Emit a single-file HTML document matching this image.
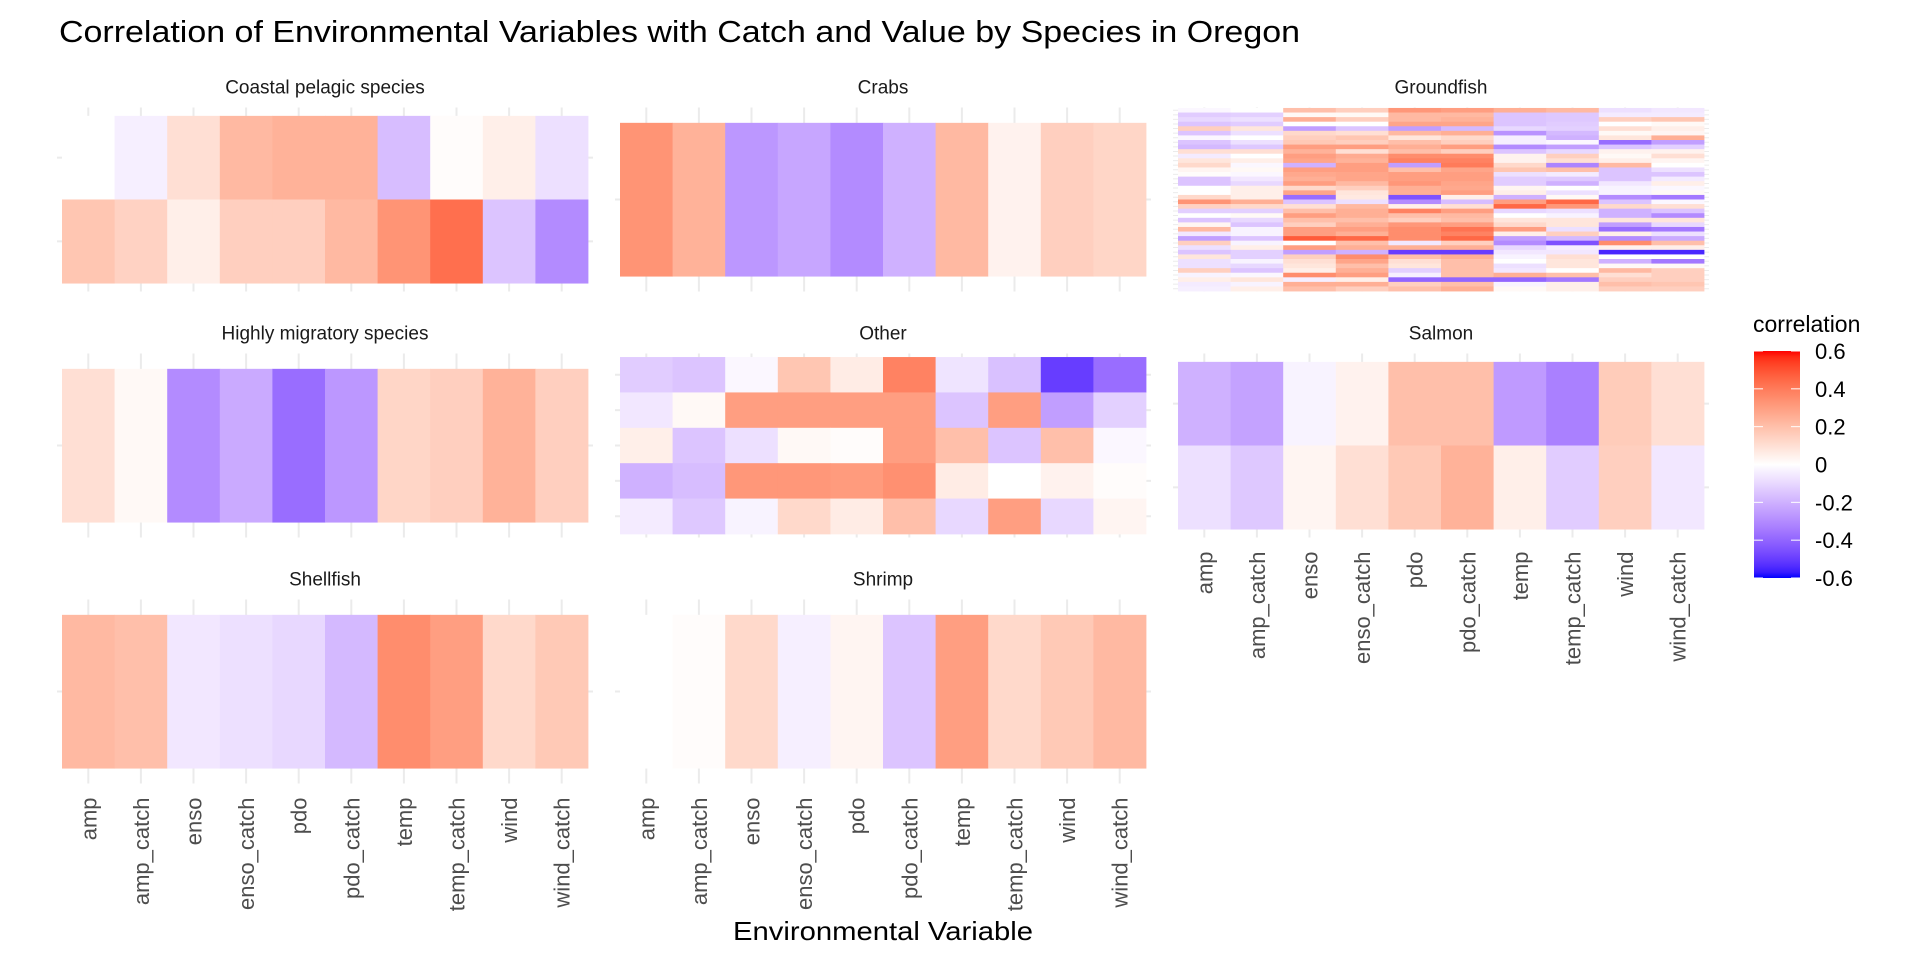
<!DOCTYPE html>
<html>
<head>
<meta charset="utf-8">
<style>
html,body{margin:0;padding:0;background:#fff;}
svg{display:block;font-family:"Liberation Sans",Arial,sans-serif;}
</style>
</head>
<body>
<svg id="chart" width="1920" height="960" viewBox="0 0 1920 960" xmlns="http://www.w3.org/2000/svg">
  <text x="59" y="42" font-size="31" fill="#000" textLength="1241" lengthAdjust="spacingAndGlyphs">Correlation of Environmental Variables with Catch and Value by Species in Oregon</text>
  <g id="panels"></g>
  <text x="883" y="940" font-size="26" text-anchor="middle" fill="#000" textLength="300" lengthAdjust="spacingAndGlyphs">Environmental Variable</text>
  <g id="legend"></g>
</svg>
<script>
const variables = ["amp","amp_catch","enso","enso_catch","pdo","pdo_catch","temp","temp_catch","wind","wind_catch"];
const species = ["Coastal pelagic species","Crabs","Groundfish","Highly migratory species","Other","Salmon","Shellfish","Shrimp"];
const coastalValues = [
  [0.0,-0.04,0.1,0.22,0.24,0.24,-0.17,0.01,0.05,-0.08],
  [0.18,0.14,0.05,0.15,0.15,0.22,0.33,0.43,-0.15,-0.3]
];
const crabsValues = [
  [0.33,0.24,-0.27,-0.23,-0.3,-0.2,0.22,0.04,0.15,0.13]
];
const groundfishValues = [
  [-0.02,0.0,0.2,0.15,0.32,0.3,0.25,0.22,-0.08,-0.06],
  [-0.13,-0.12,0.02,0.02,0.22,0.22,-0.15,-0.14,-0.05,-0.05],
  [-0.1,-0.08,0.25,0.15,0.22,0.24,-0.15,-0.14,0.15,0.18],
  [-0.15,-0.13,0.0,0.0,0.28,0.28,-0.15,-0.13,0.0,0.02],
  [0.15,0.08,-0.25,-0.15,-0.25,-0.18,-0.1,-0.12,0.1,0.05],
  [-0.15,-0.08,0.12,0.1,0.22,0.25,-0.28,-0.18,0.02,0.03],
  [-0.02,0.0,0.15,0.18,0.08,0.12,-0.04,-0.2,0.08,0.25],
  [-0.15,-0.08,0.17,0.15,0.2,0.15,-0.04,-0.02,-0.38,-0.25],
  [-0.18,-0.14,0.3,0.3,0.25,0.3,-0.3,-0.25,-0.15,-0.12],
  [0.1,0.1,0.24,0.1,0.2,0.15,-0.15,-0.1,0.04,0.04],
  [-0.05,0.0,0.3,0.26,0.35,0.35,0.04,0.15,0.02,0.1],
  [0.08,0.05,0.28,0.24,0.38,0.38,0.04,0.1,0.05,0.03],
  [0.12,-0.02,-0.2,0.3,-0.25,0.4,0.12,-0.32,0.22,0.0],
  [0.03,0.02,0.3,0.3,0.2,0.28,0.18,0.2,-0.15,-0.08],
  [0.01,-0.02,0.27,0.28,0.3,0.3,-0.08,-0.05,-0.15,-0.15],
  [-0.15,-0.06,0.25,0.28,0.3,0.3,-0.13,-0.14,-0.15,-0.05],
  [-0.15,-0.1,0.3,0.22,0.32,0.28,-0.13,-0.2,-0.06,0.05],
  [0.0,0.05,0.12,0.15,0.25,0.27,0.03,0.0,-0.03,-0.02],
  [0.0,0.05,0.28,0.08,0.25,0.3,0.05,-0.08,-0.03,0.02],
  [0.12,0.05,-0.38,0.07,-0.45,0.05,-0.2,0.02,-0.3,-0.35],
  [0.33,0.25,-0.15,-0.08,-0.3,-0.17,0.3,0.45,-0.15,-0.02],
  [0.14,0.12,0.1,0.22,0.05,0.1,0.45,0.32,0.12,0.1],
  [-0.12,-0.12,0.2,0.25,0.38,0.3,-0.1,-0.08,-0.2,-0.15],
  [0.0,0.02,0.3,0.25,0.2,0.22,0.0,-0.03,-0.2,-0.3],
  [-0.15,-0.1,0.2,0.2,0.15,0.2,0.08,0.08,0.08,0.08],
  [0.03,-0.15,0.15,0.25,0.32,0.3,0.12,0.08,-0.25,-0.1],
  [0.22,-0.03,0.3,0.3,0.35,0.42,0.3,-0.08,-0.38,-0.35],
  [-0.06,-0.03,0.3,0.25,0.35,0.38,0.05,0.15,0.05,-0.08],
  [-0.25,-0.15,0.48,0.45,0.35,0.45,-0.25,-0.18,-0.3,-0.22],
  [0.15,-0.03,0.0,0.2,-0.06,0.15,-0.3,-0.45,0.35,0.2],
  [-0.08,0.05,0.3,0.25,0.25,0.25,-0.1,-0.04,0.04,0.05],
  [-0.15,-0.12,-0.25,-0.2,-0.5,-0.5,-0.06,-0.06,-0.55,-0.55],
  [0.08,-0.12,0.15,0.35,0.2,0.25,-0.03,0.1,0.0,0.0],
  [-0.08,-0.03,0.1,0.28,0.1,0.2,0.0,0.08,-0.2,-0.35],
  [-0.08,-0.1,0.08,0.2,0.08,0.2,-0.08,0.08,0.02,0.02],
  [0.15,-0.15,0.05,0.25,-0.12,0.2,-0.06,0.0,0.22,0.15],
  [-0.03,-0.02,0.35,0.3,-0.04,0.2,0.25,0.2,0.1,0.15],
  [0.05,0.08,-0.04,0.05,-0.4,-0.4,-0.4,-0.35,0.15,0.15],
  [-0.05,-0.03,0.25,0.25,0.15,0.2,-0.03,0.05,0.2,0.18],
  [-0.04,0.05,0.2,0.15,0.2,0.25,0.02,0.05,0.15,0.15]
];
const hmsValues = [
  [0.1,0.02,-0.3,-0.22,-0.38,-0.27,0.13,0.15,0.24,0.15]
];
const otherValues = [
  [-0.13,-0.15,-0.02,0.18,0.06,0.38,-0.07,-0.16,-0.5,-0.38],
  [-0.06,0.02,0.3,0.3,0.3,0.3,-0.15,0.3,-0.25,-0.12],
  [0.05,-0.15,-0.08,0.02,0.01,0.3,0.2,-0.15,0.2,-0.02],
  [-0.2,-0.17,0.32,0.32,0.31,0.34,0.06,0.0,0.04,0.01],
  [-0.05,-0.14,-0.03,0.12,0.06,0.2,-0.1,0.3,-0.1,0.03]
];
const salmonValues = [
  [-0.2,-0.24,-0.03,0.04,0.2,0.2,-0.26,-0.33,0.16,0.1],
  [-0.08,-0.14,0.03,0.1,0.17,0.24,0.05,-0.13,0.15,-0.06]
];
const shellfishValues = [
  [0.22,0.2,-0.06,-0.08,-0.1,-0.18,0.35,0.3,0.12,0.17]
];
const shrimpValues = [
  [0.0,0.01,0.12,-0.04,0.03,-0.15,0.3,0.12,0.17,0.22]
];
const legendTicks = [0.6,0.4,0.2,0,-0.2,-0.4,-0.6];
const legendLabels = ["0.6","0.4","0.2","0","-0.2","-0.4","-0.6"];

const NS = "http://www.w3.org/2000/svg";
const LIM = 0.6;
function s2l(c){c/=255;return c<=0.04045?c/12.92:Math.pow((c+0.055)/1.055,2.4);}
function l2s(c){c=c<=0.0031308?12.92*c:1.055*Math.pow(c,1/2.4)-0.055;return Math.max(0,Math.min(255,Math.round(c*255)));}
function toLab(rgb){
  const r=s2l(rgb[0]),g=s2l(rgb[1]),b=s2l(rgb[2]);
  let X=(0.4124*r+0.3576*g+0.1805*b)/0.95047,Y=(0.2126*r+0.7152*g+0.0722*b),Z=(0.0193*r+0.1192*g+0.9505*b)/1.08883;
  const f=t=>t>0.008856?Math.cbrt(t):7.787*t+16/116;
  const fx=f(X),fy=f(Y),fz=f(Z);
  return [116*fy-16,500*(fx-fy),200*(fy-fz)];
}
function fromLab(lab){
  const fy=(lab[0]+16)/116,fx=fy+lab[1]/500,fz=fy-lab[2]/200;
  const fi=t=>t*t*t>0.008856?t*t*t:(t-16/116)/7.787;
  const X=fi(fx)*0.95047,Y=fi(fy),Z=fi(fz)*1.08883;
  const r=3.2406*X-1.5372*Y-0.4986*Z,g=-0.9689*X+1.8758*Y+0.0415*Z,b=0.0557*X-0.2040*Y+1.0570*Z;
  return "rgb("+l2s(r)+","+l2s(g)+","+l2s(b)+")";
}
const LAB_LOW=toLab([0,0,255]),LAB_MID=toLab([255,255,255]),LAB_HIGH=toLab([255,0,0]);
function colorScale(v){
  let t=Math.max(-1,Math.min(1,v/LIM));
  const end=t<0?LAB_LOW:LAB_HIGH;const a=Math.abs(t);
  return fromLab([0,1,2].map(i=>LAB_MID[i]+(end[i]-LAB_MID[i])*a));
}

const colTileX=[62,620,1178];
const tileAreaW=526;
const rowPanelY=[107.5,353.5,599.5];
const panelH=184;
const panels=[
  {name:species[0],data:coastalValues,r:0,c:0,labels:false},
  {name:species[1],data:crabsValues,r:0,c:1,labels:false},
  {name:species[2],data:groundfishValues,r:0,c:2,labels:false},
  {name:species[3],data:hmsValues,r:1,c:0,labels:false},
  {name:species[4],data:otherValues,r:1,c:1,labels:false},
  {name:species[5],data:salmonValues,r:1,c:2,labels:true},
  {name:species[6],data:shellfishValues,r:2,c:0,labels:true},
  {name:species[7],data:shrimpValues,r:2,c:1,labels:true}
];
const root=document.getElementById("panels");
function mk(tag,attrs,parent){const e=document.createElementNS(NS,tag);for(const k in attrs)e.setAttribute(k,attrs[k]);parent.appendChild(e);return e;}
function slug(s){return s.toLowerCase().replace(/[^a-z]+/g,"-").replace(/-$/,"");}

panels.forEach(p=>{
  const g=mk("g",{},root);
  
  
  const nx=variables.length;
  const xu=tileAreaW/nx;
  const x0=colTileX[p.c];
  const xScale=i=>x0+i*xu;
  const top=rowPanelY[p.r];
  const ny=p.data.length;
  const yu=panelH/(ny+0.2);
  const yScale=j=>top+0.1*yu+j*yu;
  const st=mk("text",{x:x0+tileAreaW/2,y:top-14,"font-size":19,"text-anchor":"middle",fill:"#1a1a1a"},g);
  st.textContent=p.name;
  
  
  for(let i=0;i<nx;i++){
    const l=mk("line",{x1:xScale(i)+xu/2,x2:xScale(i)+xu/2,y1:top,y2:top+panelH,stroke:"#ebebeb","stroke-width":2},g);
    
    
  }
  for(let j=0;j<ny;j++){
    const l=mk("line",{x1:x0-5,x2:x0+tileAreaW+5,y1:yScale(j)+yu/2,y2:yScale(j)+yu/2,stroke:"#ebebeb","stroke-width":ny>10?1:2},g);
    
    
  }
  p.data.forEach((row,j)=>{
    row.forEach((v,i)=>{
      const r=mk("rect",{x:xScale(i),y:yScale(j),width:xu+0.4,height:yu+0.4,fill:colorScale(v)},g);
      
      
    });
  });
  if(p.labels){
    variables.forEach((lab,i)=>{
      const cx=xScale(i)+xu/2, ty=top+panelH+14;
      const t=mk("text",{x:0,y:0,"font-size":22,"text-anchor":"end",fill:"#4d4d4d",transform:"translate("+(cx+8)+","+ty+") rotate(-90)"},g);
      t.textContent=lab;
      
      
    });
  }
});

const lg=document.getElementById("legend");
const defs=mk("defs",{},lg);
const grad=mk("linearGradient",{id:"lgrad",x1:0,y1:0,x2:0,y2:1},defs);
for(let k=0;k<=40;k++){
  const v=LIM-k*(2*LIM/40);
  mk("stop",{offset:(k/40),"stop-color":colorScale(v)},grad);
}
const barX=1754,barW=46,barTop=351,barBot=578;
const ly=v=>barTop+(LIM-v)/(2*LIM)*(barBot-barTop);
const lt=mk("text",{x:1753,y:332,"font-size":23,fill:"#000"},lg);
lt.textContent="correlation";


const bar=mk("rect",{x:barX,y:barTop,width:barW,height:barBot-barTop,fill:"url(#lgrad)"},lg);


legendTicks.forEach((v,k)=>{
  const y=ly(v);
  const a=mk("line",{x1:barX,x2:barX+9,y1:y,y2:y,stroke:"#fff","stroke-width":1},lg);
  
  
  const b=mk("line",{x1:barX+barW-9,x2:barX+barW,y1:y,y2:y,stroke:"#fff","stroke-width":1},lg);
  
  
  const t=mk("text",{x:1815,y:y+8,"font-size":22,fill:"#000"},lg);
  t.textContent=legendLabels[k];
  
  
});
</script>
</body>
</html>
